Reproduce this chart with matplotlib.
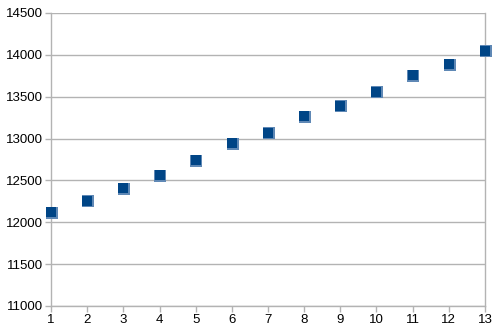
import matplotlib
matplotlib.use("Agg")
import matplotlib.pyplot as plt

x_vals = [1, 2, 3, 4, 5, 6, 7, 8, 9, 10, 11, 12, 13]
y_vals = [12120, 12260, 12410, 12565, 12740, 12945, 13070, 13270, 13395, 13560, 13755, 13885, 14050]
y_ticks = [11000, 11500, 12000, 12500, 13000, 13500, 14000, 14500]

plt.rcParams['font.family'] = ['Liberation Sans', 'DejaVu Sans']

fig = plt.figure(figsize=(5.01, 3.33), dpi=100)
ax = fig.add_axes([51 / 501, 27 / 333, 434 / 501, 293 / 333])

grid_col = "#b3b3b3"
ax.set_axisbelow(True)
ax.yaxis.grid(True, color=grid_col, linewidth=1)

# faint shadow then the marker itself
ax.scatter([v + 0.02 for v in x_vals], [v - 8 for v in y_vals], marker="s", s=64,
           color="#5f88b5", zorder=3, clip_on=False, linewidths=0)
ax.scatter(x_vals, y_vals, marker="s", s=62, color="#004586", zorder=4,
           clip_on=False, linewidths=0)

ax.set_xlim(1, 13)
ax.set_ylim(11000, 14500)
ax.set_xticks(x_vals)
ax.set_yticks(y_ticks)

for side in ["left", "right", "bottom"]:
    ax.spines[side].set_color(grid_col)
    ax.spines[side].set_linewidth(1)
ax.spines["top"].set_visible(False)

ax.tick_params(axis="both", colors=grid_col, labelcolor="#000000", labelsize=9.5, length=4, width=1)
ax.tick_params(axis="x", pad=2)
ax.tick_params(axis="y", pad=2)

fig.savefig("out.png", dpi=100)
